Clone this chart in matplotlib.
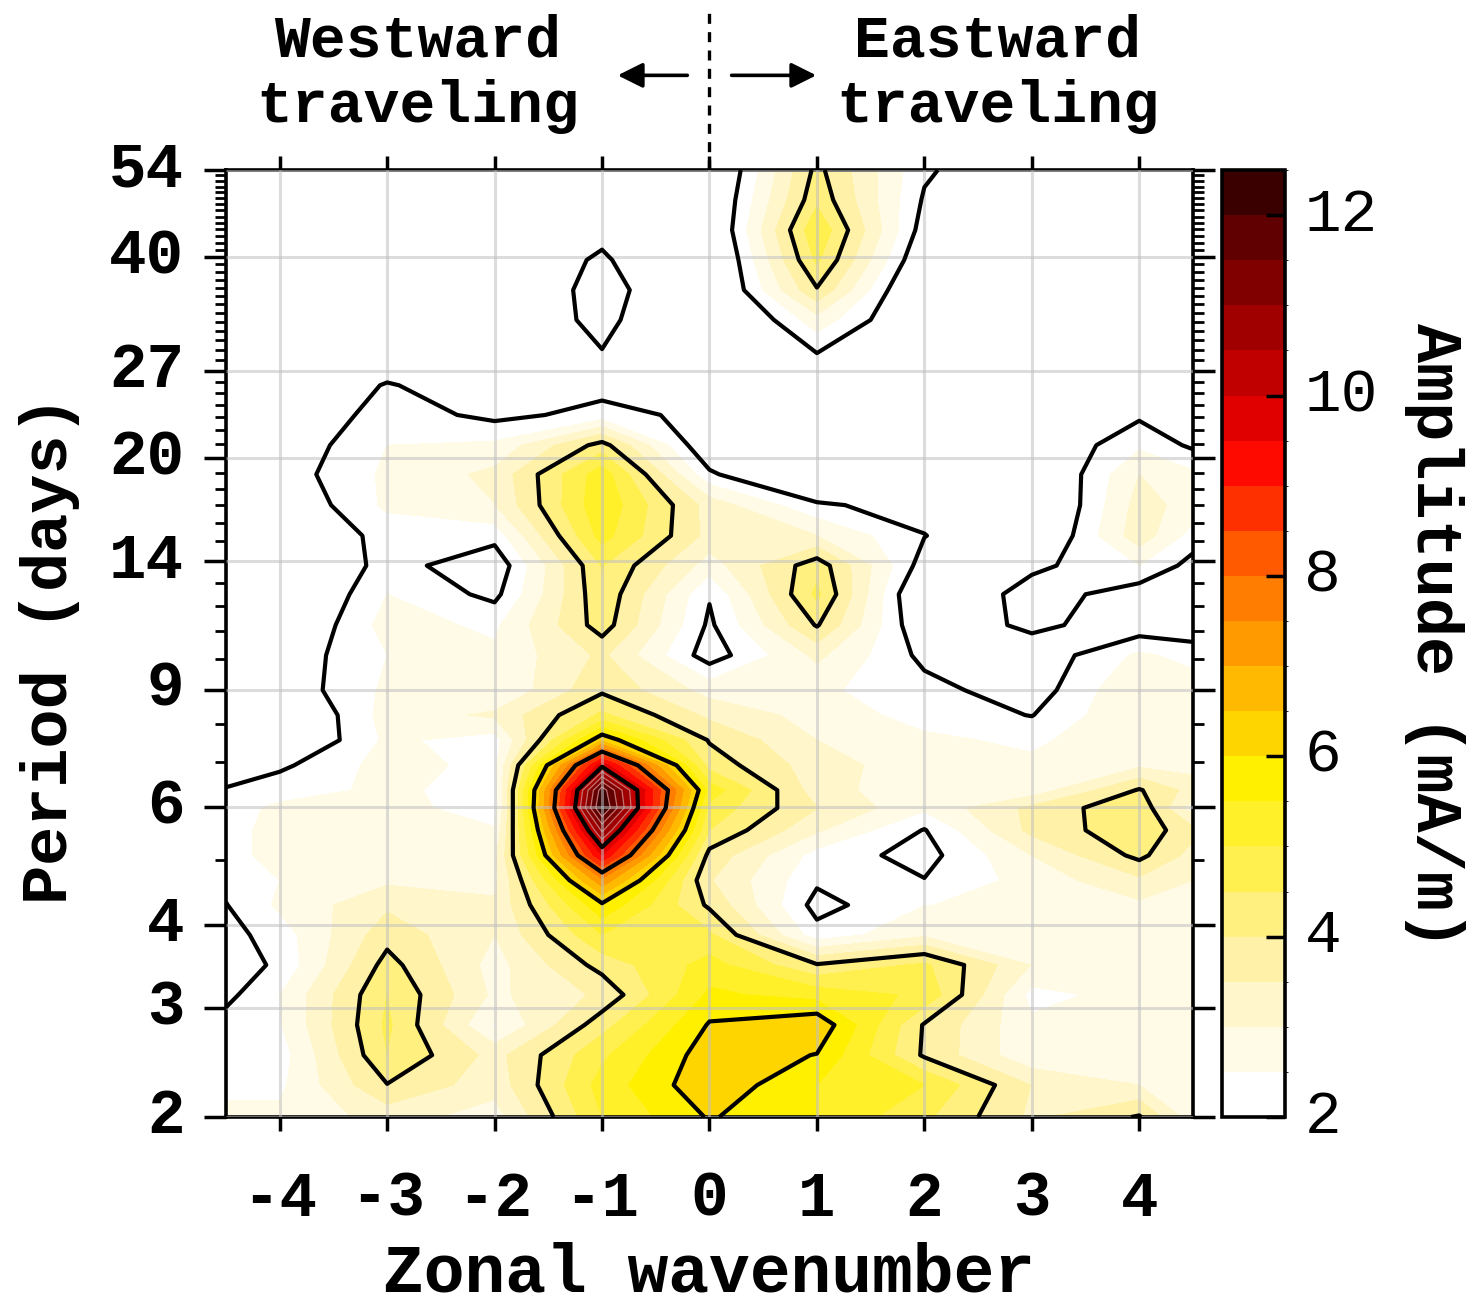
import matplotlib
matplotlib.use("Agg")
import matplotlib.pyplot as plt
import numpy as np
from matplotlib.colors import ListedColormap, BoundaryNorm
from matplotlib.ticker import FixedLocator, NullFormatter
import matplotlib.cm as cm

# zonal wavenumber columns (edges at +-4.5 close the domain)
wavenumber = [-4.5, -4, -3, -2, -1, 0, 1, 2, 3, 4, 4.5]

# period rows in days, long to short
period = [54.0, 48.7, 43.9, 39.6, 35.7, 32.2, 28.5, 25.7, 23.2, 20.9,
          18.9, 17.0, 15.3, 13.8, 12.5, 11.24, 10.13, 8.98, 8.24, 7.56,
          6.93, 6.36, 5.98, 5.54, 5.08, 4.66, 4.28, 3.86, 3.48, 3.14,
          2.83, 2.55, 2.30, 2.06]

# amplitude (mA/m), one row per period
amplitude = [
    [1.2, 1.2, 1.3, 1.3, 1.4, 1.12, 4.15, 2.1, 1.3, 1.2, 1.2],
    [1.2, 1.2, 1.3, 1.35, 1.5, 1.25, 4.37, 1.93, 1.3, 1.2, 1.2],
    [1.2, 1.2, 1.3, 1.4, 1.8, 1.22, 4.93, 1.73, 1.3, 1.2, 1.2],
    [1.2, 1.2, 1.3, 1.4, 2.1, 1.04, 4.6, 1.4, 1.3, 1.2, 1.2],
    [1.2, 1.2, 1.2, 1.13, 2.32, 1.08, 3.95, 1.0, 1.2, 1.2, 1.2],
    [1.2, 1.2, 1.2, 1.2, 2.25, 0.8, 2.8, 1.2, 1.2, 1.2, 1.2],
    [1.2, 1.2, 1.5, 1.3, 1.95, 1.0, 1.95, 1.2, 1.2, 1.2, 1.2],
    [1.2, 1.3, 2.05, 1.6, 1.8, 1.3, 1.3, 1.2, 1.2, 1.2, 1.2],
    [1.2, 1.3, 2.3, 1.84, 2.18, 1.85, 1.3, 1.2, 1.3, 1.9, 1.8],
    [1.5, 1.56, 2.5, 2.6, 4.21, 1.45, 1.2, 1.2, 1.4, 2.4, 1.9],
    [1.6, 1.69, 2.6, 3.13, 5.3, 2.1, 1.0, 1.2, 1.15, 3.0, 2.6],
    [1.45, 1.45, 2.6, 2.99, 5.4, 3.28, 2.1, 1.72, 1.02, 3.2, 2.8],
    [1.3, 1.33, 2.2, 2.2, 5.2, 3.33, 3.0, 2.02, 1.2, 3.3, 2.3],
    [1.3, 1.0, 2.24, 1.59, 4.53, 2.76, 4.31, 1.73, 1.85, 2.5, 1.8],
    [1.3, 1.07, 2.5, 1.85, 4.4, 2.05, 4.62, 1.18, 2.3, 1.7, 1.6],
    [1.3, 1.24, 2.7, 2.4, 4.26, 1.9, 4.05, 1.46, 2.16, 1.63, 1.6],
    [1.3, 1.62, 2.5, 2.6, 3.6, 1.72, 3.12, 1.85, 1.6, 2.6, 2.3],
    [1.3, 1.6, 2.6, 2.5, 3.9, 2.8, 2.6, 2.18, 1.7, 3.0, 2.8],
    [1.3, 1.18, 2.7, 3.1, 4.6, 3.38, 2.8, 2.3, 1.98, 3.0, 2.9],
    [1.3, 1.24, 2.6, 2.28, 6.38, 3.95, 3.0, 2.6, 2.4, 2.9, 2.8],
    [1.6, 1.89, 2.7, 2.35, 9.85, 4.3, 3.23, 2.7, 2.6, 2.9, 2.8],
    [2.05, 2.3, 2.6, 2.3, 12.3, 5.3, 3.24, 2.6, 2.7, 4.05, 3.3],
    [2.3, 2.6, 2.7, 2.24, 12.6, 4.84, 3.51, 2.6, 3.63, 4.4, 2.73],
    [2.4, 2.6, 2.8, 2.55, 11.1, 4.5, 3.07, 1.97, 3.65, 4.35, 3.65],
    [2.4, 2.6, 2.9, 2.87, 9.5, 3.83, 2.3, 1.8, 3.0, 4.15, 3.3],
    [2.15, 2.5, 2.9, 2.89, 7.35, 3.54, 2.1, 2.02, 2.7, 3.4, 3.0],
    [1.98, 2.6, 3.4, 3.06, 5.9, 3.9, 1.8, 2.49, 2.6, 2.9, 2.6],
    [1.8, 2.25, 3.8, 3.0, 5.0, 4.6, 2.2, 2.9, 2.7, 2.9, 2.7],
    [1.7, 2.1, 4.2, 2.8, 4.2, 5.2, 4.05, 4.6, 2.98, 2.8, 2.6],
    [1.85, 2.5, 4.5, 2.89, 3.6, 5.6, 5.3, 4.9, 2.33, 2.7, 2.5],
    [2.2, 2.46, 4.6, 2.45, 4.3, 6.05, 6.4, 3.95, 2.6, 2.7, 2.5],
    [2.3, 2.26, 4.49, 3.32, 4.9, 6.3, 5.98, 3.92, 2.6, 2.8, 2.6],
    [2.4, 2.4, 3.98, 3.2, 5.2, 6.4, 5.5, 5.0, 3.48, 3.0, 2.7],
    [2.6, 2.6, 3.2, 2.78, 5.0, 6.05, 5.5, 4.6, 3.4, 4.05, 2.7],
]

xticks = [-4, -3, -2, -1, 0, 1, 2, 3, 4]
ytick_pos = [2.06, 3, 4, 6, 9, 14, 20, 27, 40, 54]
ytick_labels = ["2", "3", "4", "6", "9", "14", "20", "27", "40", "54"]
line_levels = [2, 4, 6, 8, 10]
fill_levels = np.arange(2, 12.51, 0.5)
cbar_ticks = [2, 4, 6, 8, 10, 12]

# white -> yellow -> orange -> red -> black, one colour per 0.5 band
band_colors = ["#ffffff", "#fffbe6", "#fff6cc", "#fff2a8", "#fff07f",
               "#fff050", "#fff02a", "#fff000", "#ffd500", "#ffb900",
               "#ff9a00", "#ff7d00", "#ff5a00", "#ff3000", "#ff0a00",
               "#e00000", "#c00000", "#a00000", "#800000", "#600000",
               "#3a0000"]

plt.rcParams["font.family"] = ["Liberation Mono", "DejaVu Sans Mono"]
plt.rcParams["font.weight"] = "bold"

fig = plt.figure(figsize=(14.73, 13.04), dpi=100)
ax = fig.add_axes([0.1534, 0.1434, 0.6565, 0.7262])
cax = fig.add_axes([0.8296, 0.1434, 0.0428, 0.7262])

X, Y = np.meshgrid(wavenumber, period)
Z = np.array(amplitude)

cmap = ListedColormap(band_colors).with_extremes(under="white", over="#1a0000")
norm = BoundaryNorm(fill_levels, cmap.N)

ax.contourf(X, Y, Z, levels=fill_levels, cmap=cmap, norm=norm,
            extend="both", zorder=1)
ax.contour(X, Y, Z, levels=[10.5, 11, 11.5, 12], colors="#c87070",
           linewidths=0.9, zorder=2)
ax.contour(X, Y, Z, levels=line_levels, colors="black",
           linewidths=3.0, zorder=3)

ax.set_yscale("log")
ax.set_xlim(-4.5, 4.5)
ax.set_ylim(2.06, 54)
ax.set_xticks(xticks)
ax.set_xticklabels([str(v) for v in xticks])
ax.set_yticks(ytick_pos)
ax.set_yticklabels(ytick_labels)
ax.yaxis.set_minor_locator(FixedLocator([p for p in range(3, 54) if p not in ytick_pos]))
ax.yaxis.set_minor_formatter(NullFormatter())

ax.tick_params(axis="x", which="major", direction="out", length=10, width=2.5,
               top=True, bottom=True, labelsize=45, pad=28)
ax.tick_params(axis="y", which="major", direction="out", length=16, width=2.5,
               left=True, right=True, labelsize=45, pad=14)
ax.tick_params(axis="y", which="minor", direction="out", length=8, width=2,
               left=True, right=True)
for lbl in ax.get_yticklabels():
    lbl.set_verticalalignment("center")
for s in ax.spines.values():
    s.set_linewidth(2.6)

ax.set_axisbelow(False)
ax.grid(True, which="major", color="#c0c0c0", linewidth=2.2, alpha=0.55)

# colorbar
sm = cm.ScalarMappable(norm=norm, cmap=cmap)
cb = fig.colorbar(sm, cax=cax)
cb.set_ticks(cbar_ticks)
cb.set_ticklabels([str(v) for v in cbar_ticks])
cb.outline.set_linewidth(2.6)
cax.tick_params(direction="in", length=14, width=2.5, labelsize=44, pad=14)
for t in cax.get_yticklabels():
    t.set_fontweight("normal")
    t.set_verticalalignment("center")

fig.text(709 / 1473, 1 - 1274 / 1304, "Zonal wavenumber", ha="center", va="center",
         fontsize=49)
fig.text(50 / 1473, 1 - 650 / 1304, "Period (days)", rotation=90, ha="center",
         va="center", fontsize=47)
fig.text(1435 / 1473, 1 - 636 / 1304, "Amplitude (mA/m)", rotation=270,
         ha="center", va="center", fontsize=47)

# propagation direction header
fig.text(418 / 1473, 1 - 74 / 1304, "Westward\ntraveling", ha="center", va="center",
         fontsize=43, linespacing=1.25)
fig.text(998 / 1473, 1 - 74 / 1304, "Eastward\ntraveling", ha="center", va="center",
         fontsize=43, linespacing=1.25)
trans = ax.get_xaxis_transform()
ax.plot([0, 0], [1.0, 1.174], transform=trans, color="black", lw=2.4,
        ls=(0, (3, 2.5)), clip_on=False)
ax.annotate("", xy=(-0.88, 1.10), xytext=(-0.18, 1.10), xycoords=trans,
            arrowprops=dict(arrowstyle="-|>", color="black", lw=2.6, mutation_scale=38),
            annotation_clip=False)
ax.annotate("", xy=(1.02, 1.10), xytext=(0.18, 1.10), xycoords=trans,
            arrowprops=dict(arrowstyle="-|>", color="black", lw=2.6, mutation_scale=38),
            annotation_clip=False)

fig.savefig("out.png", dpi=100)
